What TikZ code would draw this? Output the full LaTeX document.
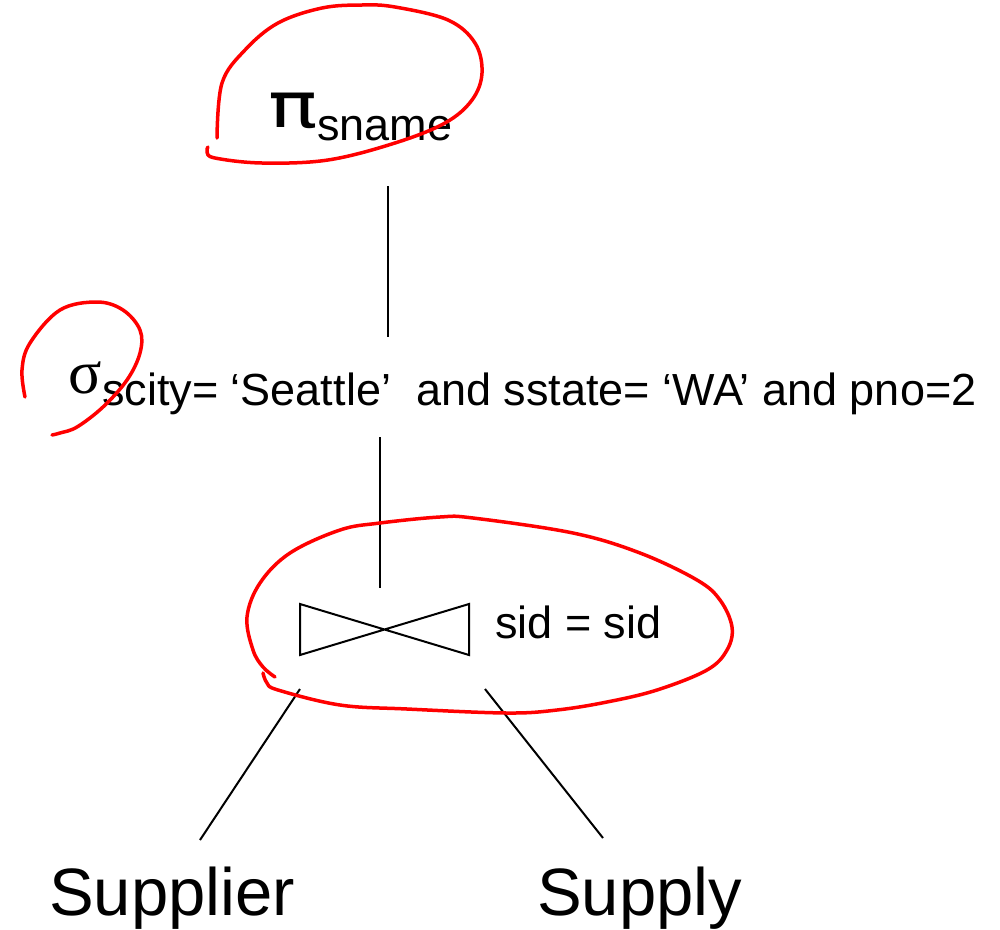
\documentclass[tikz,border=0pt]{standalone}
\usepackage{fontspec}
\setmainfont{Liberation Sans}
\newfontfamily\greekserif{Liberation Serif}
\newfontfamily\greeksans{DejaVu Sans}
\begin{document}
\begin{tikzpicture}[x=1pt,y=-1pt,
  link/.style={line width=2pt},
  pen/.style={red, line width=3.5pt, line cap=round, line join=round},
  txt/.style={inner sep=0pt, anchor=base west},
  big/.style={font=\fontsize{67}{72}\selectfont},
  sub/.style={font=\fontsize{45}{50}\selectfont}]
\useasboundingbox (0,0) rectangle (1000,929);

% projection
\node[txt, xscale=1.3, font=\greeksans\fontsize{63}{68}\selectfont] (pi) at (268,127) {π};
\node[txt, sub] (pisub) at (317,140) {sname};

% selection
\node[txt, font=\greekserif\fontsize{62}{68}\selectfont] (sigma) at (68,393) {σ};
\node[txt, sub] (cond) at (102,405) {scity=\ ‘Seattle’\ \ and sstate=\ ‘WA’ and pno=2};

% join
\coordinate (join) at (384.5,629.5);
\draw[link, line join=miter] ([shift={(-84.5,-25.5)}]join) -- ([shift={(84.5,25.5)}]join)
  -- ([shift={(84.5,-25.5)}]join) -- ([shift={(-84.5,25.5)}]join) -- cycle;
\node[txt, sub] (jcond) at (495,638) {sid = sid};

% relations
\node[txt, big] (supplier) at (49,915) {Supplier};
\node[txt, big] (supply) at (537,915) {Supply};

% tree edges
\coordinate (pi-s) at (388,186);
\coordinate (sigma-n) at (388,337);
\coordinate (sigma-s) at (380,437);
\coordinate (join-n) at (380,588);
\coordinate (join-sw) at (300,689);
\coordinate (supplier-n) at (200,840);
\coordinate (join-se) at (485,689);
\coordinate (supply-n) at (603,838);
\draw[link] (pi-s) -- (sigma-n);
\draw[link] (sigma-s) -- (join-n);
\draw[link] (join-sw) -- (supplier-n);
\draw[link] (join-se) -- (supply-n);

% hand-drawn red marks
\draw[pen] plot[smooth, tension=0.6] coordinates {
  (217,138) (222,83) (245,50) (278,23) (322,8) (362,5) (395,7) (448,20) (475,43)
  (482,73) (472,100) (445,123) (395,143) (328,160) (262,163) (215,158) (207,152) (208,147)};
\draw[pen] plot[smooth, tension=0.6] coordinates {
  (25,397) (22,370) (30,343) (60,310) (97,302) (123,310) (140,330) (140,353)
  (127,380) (103,407) (77,427) (60,433) (52,435)};
\draw[pen] plot[smooth, tension=0.6] coordinates {
  (275,677) (263,667) (253,650) (247,617) (260,583) (290,553) (340,530) (380,523)
  (440,517) (473,518) (573,533) (640,553) (697,580) (720,600) (732,627) (727,650)
  (707,670) (657,690) (607,702) (557,710) (507,713) (407,709) (340,705) (278,690)
  (267,683) (263,673)};
\end{tikzpicture}
\end{document}
